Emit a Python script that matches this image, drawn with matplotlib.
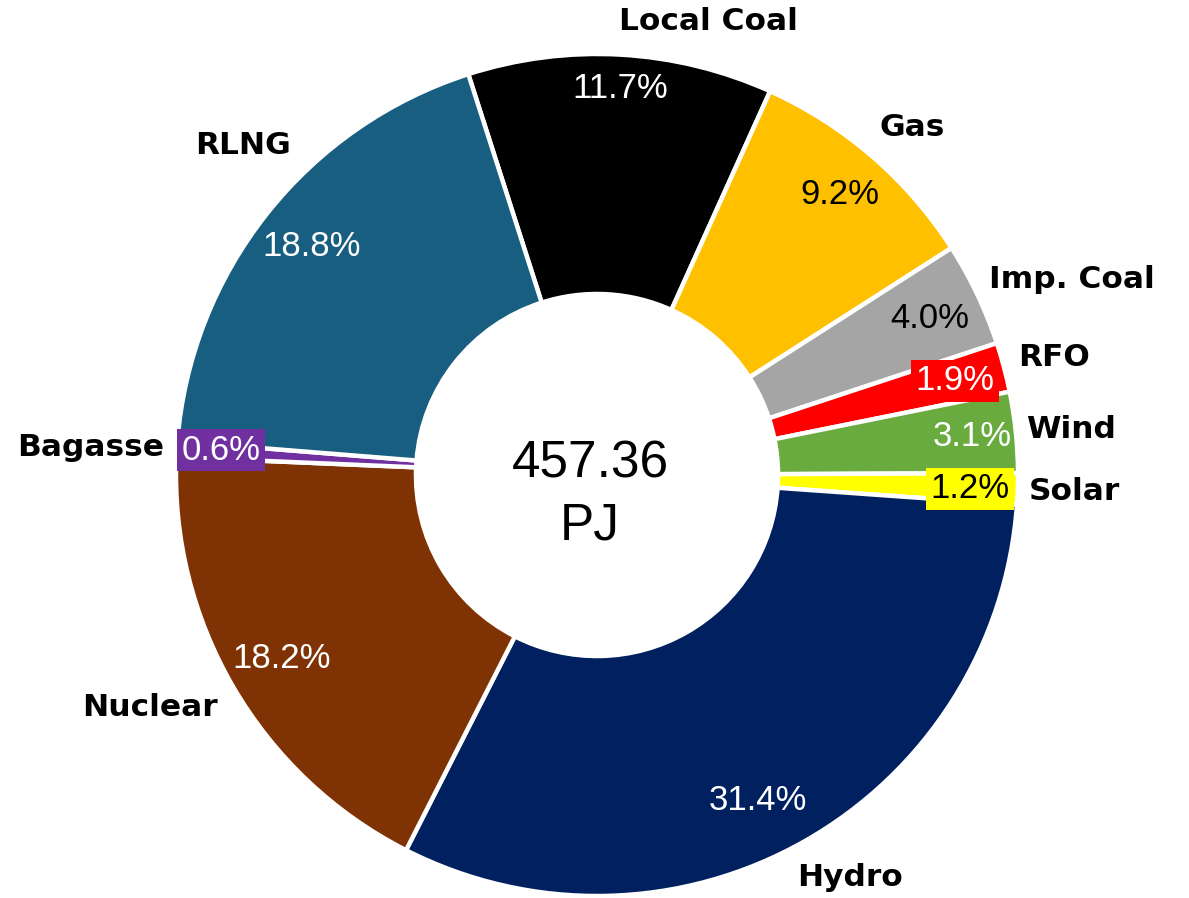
import matplotlib
matplotlib.use("Agg")
import matplotlib.pyplot as plt

# ---- data ----
categories = ["Local Coal", "Gas", "Imp. Coal", "RFO", "Wind", "Solar",
              "Hydro", "Nuclear", "Bagasse", "RLNG"]
shares = [11.7, 9.2, 4.0, 1.9, 3.1, 1.2, 31.4, 18.2, 0.6, 18.8]
pct_labels = ["11.7%", "9.2%", "4.0%", "1.9%", "3.1%", "1.2%",
              "31.4%", "18.2%", "0.6%", "18.8%"]
total_value = "457.36"
total_unit = "PJ"

# ---- styles ----
colors = ["#000000", "#FFC000", "#A5A5A5", "#FF0000", "#6AAB40", "#FFFF00",
          "#002060", "#7F3304", "#7030A0", "#185E80"]
pct_colors = ["white", "black", "black", "white", "white", "black",
              "white", "white", "white", "white"]
boxed = {"RFO": "#FF0000", "Solar": "#FFFF00", "Bagasse": "#7030A0"}

W, H = 1189, 898
CX, CY, R = 597, 475, 421  # pixel centre / radius of the ring

# label anchor positions in pixels (layout)
pct_pos = {"Local Coal": (620, 88), "Gas": (840, 195), "Imp. Coal": (930, 318),
           "RFO": (955, 381), "Wind": (972, 437), "Solar": (970, 489),
           "Hydro": (758, 800), "Nuclear": (282, 658), "Bagasse": (221, 450),
           "RLNG": (312, 247)}
cat_pos = {"Local Coal": (708, 22), "Gas": (912, 128), "Imp. Coal": (1072, 279),
           "RFO": (1054, 358), "Wind": (1071, 430), "Solar": (1074, 492),
           "Hydro": (850, 878), "Nuclear": (150, 707), "Bagasse": (91, 447),
           "RLNG": (243, 146)}


def to_data(p):
    return ((p[0] - CX) / R, (CY - p[1]) / R)


fig = plt.figure(figsize=(W / 100, H / 100), dpi=100)
ax = fig.add_axes([0, 0, 1, 1])
ax.axis("off")

ax.pie(shares, colors=colors, startangle=107.8, counterclock=False,
       radius=1.0,
       wedgeprops=dict(width=0.57, edgecolor="white", linewidth=3.2,
                       joinstyle="miter"))
ax.set_xlim(-CX / R, (W - CX) / R)
ax.set_ylim(-(H - CY) / R, CY / R)
ax.set_aspect("auto")

reg_font = "Liberation Sans"
bold_font = "DejaVu Sans"

for cat, lab, tc in zip(categories, pct_labels, pct_colors):
    x, y = to_data(pct_pos[cat])
    kw = {}
    if cat in boxed:
        kw["bbox"] = dict(boxstyle="square,pad=0.12", fc=boxed[cat], ec="none")
    ax.text(x, y, lab, ha="center", va="center", color=tc,
            fontsize=25, family=reg_font, **kw)
    cx_, cy_ = to_data(cat_pos[cat])
    ax.text(cx_, cy_, cat, ha="center", va="center", color="black",
            fontsize=22.5, family=bold_font, fontweight="bold")

ax.text(to_data((590, 0))[0], to_data((0, 477))[1], total_value,
        ha="center", va="baseline", fontsize=37, family=reg_font)
ax.text(to_data((590, 0))[0], to_data((0, 540))[1], total_unit,
        ha="center", va="baseline", fontsize=37, family=reg_font)

fig.savefig("out.png", dpi=100)
